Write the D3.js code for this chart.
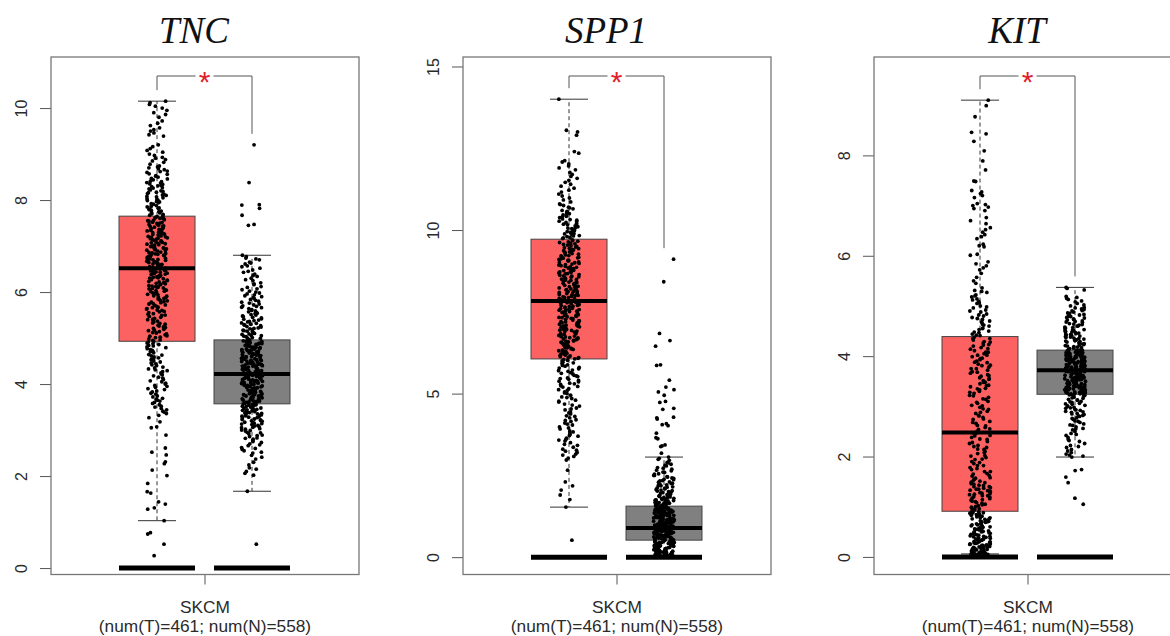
<!DOCTYPE html>
<html>
<head>
<meta charset="utf-8">
<script src="https://cdn.jsdelivr.net/npm/d3@7"></script>
<style>
  body { margin: 0; background: #fff; }
</style>
</head>
<body>
<svg id="chart"></svg>
<script>
// ---- data ----
const genes = ['TNC', 'SPP1', 'KIT'];
const groups = ['T', 'N'];
const yTicks = [[0, 2, 4, 6, 8, 10], [0, 5, 10, 15], [0, 2, 4, 6, 8]];
const yLimits = [[-0.14, 11.11], [-0.53, 15.29], [-0.35, 9.96]];
const xLabel = ['SKCM', '(num(T)=461; num(N)=558)'];

// box stats per group: [whisker low, q1, median, q3, whisker high]
const tncStats = [[1.03, 4.93, 6.52, 7.65, 10.15], [1.67, 3.57, 4.22, 4.96, 6.80]];
const spp1Stats = [[1.53, 6.06, 7.83, 9.72, 14.0], [0.0, 0.52, 0.89, 1.56, 3.06]];
const kitStats = [[0.06, 0.91, 2.48, 4.39, 9.10], [1.99, 3.24, 3.72, 4.12, 5.37]];

// expression values (points)
const tncT = [0.27,0.52,0.74,0.77,1.03,1.28,1.31,1.39,1.44,1.63,1.66,1.84,2.01,2.13,2.27,2.31,2.46,2.52,2.61,2.89,3.05,3.07,3.18,3.27,
  3.32,3.36,3.39,3.44,3.47,3.52,3.55,3.6,3.63,3.67,3.69,3.74,3.78,3.8,3.85,3.88,3.93,3.97,4.0,4.02,4.07,4.1,4.13,4.18,4.2,4.24,4.27,4.31,4.33,4.37,4.4,4.44,4.46,4.5,4.53,4.55,4.59,4.61,4.64,4.68,4.7,4.73,4.75,4.79,4.81,4.84,4.86,4.89,4.91,
  4.95,4.98,5.01,5.04,5.05,5.09,5.12,5.14,5.17,5.21,5.23,5.26,5.3,5.32,5.35,5.38,5.41,5.43,5.47,5.5,5.52,5.55,5.57,5.61,5.64,5.66,5.69,5.71,5.74,5.77,5.79,5.82,5.84,5.86,5.89,5.91,5.94,5.96,5.98,6.01,6.03,6.05,6.08,6.1,6.12,6.14,6.17,6.19,6.21,6.23,6.26,6.28,6.3,6.32,6.34,6.36,6.39,6.41,6.43,6.45,6.47,6.49,6.51,6.53,6.55,6.57,6.6,6.62,6.64,6.66,6.68,6.7,6.72,6.74,6.77,6.79,6.81,6.83,6.85,6.87,6.9,6.92,6.94,6.96,6.98,7.0,7.03,7.05,7.07,7.09,7.11,7.14,7.16,7.18,7.2,7.22,7.25,7.27,7.29,7.31,7.34,7.36,7.38,7.41,7.43,7.45,7.48,7.5,7.52,7.55,7.57,7.6,7.62,7.64,
  7.67,7.7,7.72,7.75,7.78,7.8,7.83,7.86,7.88,7.91,7.94,7.97,8.0,8.02,8.05,8.08,8.11,8.14,8.17,8.2,8.22,8.26,8.29,8.32,8.35,8.38,8.41,8.44,8.47,8.5,8.53,8.57,8.6,8.63,8.66,8.7,8.74,8.78,
  8.82,8.85,8.88,8.91,8.93,8.97,9.0,9.04,9.08,9.12,9.16,9.2,9.39,9.42,9.46,9.5,9.53,9.57,9.62,9.67,9.72,9.8,9.86,9.9,9.95,10.0,10.04,10.08,10.12,10.15,
  3.41,3.5,3.58,3.65,3.72,3.83,3.9,3.95,4.05,4.15,4.22,4.29,4.35,4.42,4.48,4.57,4.63,4.71,4.77,4.83,4.88,4.92,
  4.96,5.02,5.07,5.11,5.16,5.19,5.24,5.28,5.33,5.37,5.4,5.45,5.49,5.53,5.58,5.6,5.63,5.67,5.72,5.75,5.78,5.81,5.85,5.88,5.92,5.95,5.99,6.02,6.04,6.07,6.09,6.11,6.13,6.16,6.18,6.2,6.22,6.25,6.27,6.29,6.31,6.33,6.35,6.38,6.4,6.42,6.44,6.46,6.48,6.5,6.52,6.54,6.56,6.59,6.61,6.63,6.65,6.67,6.69,6.71,6.73,6.76,6.78,6.8,6.82,6.84,6.86,6.89,6.91,6.93,6.95,6.97,6.99,7.02,7.04,7.06,7.08,7.1,7.13,7.15,7.17,7.19,7.21,7.24,7.26,7.28,7.3,7.33,7.35,7.37,7.4,7.42,7.44,7.47,7.49,7.51,7.54,7.56,7.59,7.61,7.63,7.66,7.69,7.73,7.76,7.79,7.82,7.85,7.89,7.92,7.96,7.99,8.03,8.07,8.1,8.13,8.16,8.19,8.24,8.27,8.31,8.34,8.37,8.4,8.46,8.52,8.56,8.62,8.68,8.72];
const tncN = [0.52,1.67,2.02,2.06,2.1,2.15,2.18,2.24,2.3,2.37,2.41,2.45,2.5,2.55,2.58,2.62,2.66,2.7,2.73,2.77,2.8,2.83,2.86,2.89,2.92,2.95,2.98,3.0,3.03,3.05,3.08,3.1,3.13,3.15,3.17,3.2,3.22,3.24,3.27,3.29,3.31,3.33,3.35,3.37,3.39,3.41,3.43,3.45,3.47,3.49,3.51,3.53,3.55,3.56,
  3.58,3.59,3.61,3.62,3.63,3.65,3.66,3.67,3.69,3.7,3.71,3.73,3.74,3.75,3.76,3.78,3.79,3.8,3.82,3.83,3.84,3.86,3.87,3.88,3.9,3.91,3.92,3.93,3.95,3.96,3.97,3.98,4.0,4.01,4.02,4.03,4.05,4.06,4.07,4.08,4.1,4.11,4.12,4.13,4.15,4.16,4.17,4.18,4.19,4.21,4.22,4.23,4.24,4.25,4.27,4.28,4.29,4.3,4.32,4.33,4.34,4.35,4.37,4.38,4.39,4.41,4.42,4.43,4.45,4.46,4.47,4.49,4.5,4.52,4.53,4.54,4.56,4.57,4.59,4.6,4.62,4.63,4.65,4.66,4.68,4.69,4.71,4.72,4.74,4.76,4.77,4.79,4.8,4.82,4.84,4.85,4.87,4.89,4.9,4.92,4.94,4.95,
  4.98,5.0,5.03,5.05,5.08,5.1,5.12,5.15,5.17,5.2,5.22,5.25,5.28,5.3,5.33,5.36,5.39,5.42,5.45,5.48,5.51,5.54,5.57,5.6,5.64,5.67,5.7,5.74,5.78,5.82,5.86,5.9,5.94,5.98,6.02,6.07,6.12,6.16,6.2,6.25,6.3,6.34,6.39,6.43,6.48,6.52,6.57,6.61,6.65,6.7,6.74,6.77,6.8,
  7.45,7.47,7.67,7.82,7.89,7.9,8.38,9.2,
  2.52,2.6,2.68,2.75,2.82,2.88,2.94,2.99,3.02,3.06,3.09,3.12,3.14,3.16,3.19,3.21,3.23,3.26,3.28,3.3,3.32,3.34,3.36,3.38,3.4,3.42,3.44,3.46,3.48,3.5,3.52,3.54,3.57,3.6,3.64,3.68,3.72,3.77,3.81,3.85,3.89,3.94,3.99,4.04,4.09,4.14,4.2,4.26,4.31,4.36,4.4,4.44,4.48,4.51,4.55,4.58,4.61,4.64,4.67,4.7,4.73,4.75,4.78,4.81,4.83,4.86,4.88,4.91,4.93,4.96,4.99,5.01,5.04,5.06,5.09,5.11,5.14,5.16,5.19,5.21,5.24,5.27,5.29,5.32,5.35,5.38,5.41,5.44,5.47,5.5,5.53,5.56,5.59,5.62,5.66,5.69,5.72,5.76,5.8,5.84,5.88,5.92,5.96,6.0,6.05,6.1,6.18,6.27,6.36,6.45,6.55,6.63,6.72,
  3.6,3.62,3.66,3.7,3.74,3.77,3.8,3.84,3.87,3.91,3.93,3.97,4.0,4.03,4.06,4.08,4.11,4.13,4.16,4.18,4.21,4.24,4.27,4.29,4.32,4.34,4.37,4.39,4.42,4.45,4.47,4.5,4.53,4.56,4.59,4.62,4.65,4.68,4.72,4.76,4.8,4.84,4.88,4.92];
const spp1T = [0.52,1.53,1.76,1.9,2.05,2.18,2.3,2.66,2.97,3.03,3.08,3.15,3.2,3.24,3.3,3.36,3.42,3.5,3.55,3.6,3.64,3.7,3.75,3.8,3.86,3.92,3.98,4.04,4.1,4.15,4.2,4.26,4.32,4.38,4.44,4.5,4.56,4.62,4.68,4.74,4.8,4.85,4.9,4.95,5.0,5.05,5.1,5.15,5.2,5.24,5.28,5.32,5.36,5.4,5.44,5.48,5.52,5.56,5.6,5.64,5.68,5.72,5.76,5.8,5.84,5.88,5.92,5.96,6.0,6.04,
  6.08,6.11,6.15,6.18,6.21,6.25,6.28,6.31,6.35,6.38,6.41,6.45,6.48,6.51,6.55,6.58,6.61,6.65,6.68,6.71,6.74,6.78,6.81,6.84,6.88,6.91,6.94,6.97,7.01,7.04,7.07,7.1,7.14,7.17,7.2,7.23,7.27,7.3,7.33,7.36,7.39,7.43,7.46,7.49,7.52,7.55,7.58,7.61,7.64,7.67,7.7,7.73,7.76,7.79,7.82,7.85,7.88,7.91,7.94,7.97,8.0,8.03,8.06,8.09,8.12,8.15,8.18,8.21,8.25,8.28,8.31,8.34,8.37,8.41,8.44,8.47,8.5,8.54,8.57,8.6,8.64,8.67,8.7,8.74,8.77,8.8,8.84,8.87,8.91,8.94,8.98,9.01,9.05,9.08,9.12,9.15,9.19,9.22,9.26,9.3,9.33,9.37,9.41,9.44,9.48,9.52,9.56,9.6,9.64,9.68,
  9.74,9.77,9.8,9.83,9.86,9.89,9.92,9.95,9.98,10.01,10.04,10.07,10.1,10.13,10.16,10.2,10.23,10.27,10.3,10.34,10.38,10.42,10.46,10.5,10.55,10.6,10.65,10.7,10.75,10.8,10.86,
  10.92,10.98,11.04,11.1,11.16,11.22,11.28,11.34,11.4,11.46,11.52,11.58,11.64,11.7,11.76,11.84,11.9,11.96,12.02,12.08,12.12,12.35,12.4,12.9,13.0,13.05,14.0,
  3.12,3.27,3.45,3.58,3.72,3.83,3.95,4.07,4.18,4.3,4.41,4.53,4.65,4.77,4.88,
  5.02,5.12,5.22,5.3,5.38,5.46,5.54,5.62,5.7,5.78,5.86,5.94,6.02,6.06,6.1,6.13,6.17,6.2,6.23,6.27,6.3,6.33,6.37,6.4,6.43,6.47,6.5,6.53,6.57,6.6,6.63,6.67,6.7,6.73,6.76,6.8,6.83,6.86,6.9,6.93,6.96,6.99,7.03,7.06,7.09,7.12,7.16,7.19,7.22,7.25,7.29,7.32,7.35,7.38,7.41,7.45,7.48,7.51,7.54,7.57,7.6,7.63,7.66,7.69,7.72,7.75,7.78,7.81,7.84,7.87,7.9,7.93,7.96,7.99,8.02,8.05,8.08,8.11,8.14,8.17,8.2,8.23,8.27,8.3,8.33,8.36,8.39,8.43,8.46,8.49,8.52,8.56,8.59,8.62,8.66,8.69,8.72,8.76,8.79,8.82,8.86,8.89,8.93,8.96,9.0,9.03,9.07,9.1,9.14,9.17,9.21,9.24,9.28,9.32,9.35,9.39,9.43,9.46,9.5,9.54,9.58,9.62,9.66,9.7,9.76,9.82,9.88,9.94,10.0,10.06,10.12,10.18,10.25,10.32,10.4,10.48,10.57,10.68,10.78];
const spp1N = [0.02,0.03,0.05,0.06,0.08,0.09,0.1,0.12,0.13,0.15,0.16,0.17,0.19,0.2,0.21,0.22,0.24,0.25,0.27,0.28,0.3,0.31,0.32,0.33,0.35,0.36,0.37,0.39,0.4,0.42,0.43,0.44,0.45,0.46,0.48,0.49,0.5,0.51,
  0.53,0.54,0.56,0.57,0.58,0.6,0.61,0.62,0.64,0.65,0.66,0.68,0.69,0.7,0.72,0.73,0.74,0.76,0.77,0.78,0.8,0.81,0.82,0.84,0.85,0.86,0.88,0.89,0.9,0.91,0.93,0.94,0.95,0.97,0.98,0.99,1.01,1.02,1.03,1.05,1.06,1.07,1.09,1.1,1.11,1.13,1.14,1.15,1.17,1.18,1.2,1.21,1.22,1.24,1.25,1.27,1.28,1.3,1.31,1.33,1.34,1.36,1.37,1.39,1.4,1.42,1.43,1.45,1.46,1.48,1.5,1.51,1.53,1.55,
  1.57,1.59,1.61,1.63,1.65,1.67,1.69,1.71,1.73,1.75,1.77,1.8,1.82,1.84,1.87,1.89,1.92,1.94,1.97,2.0,2.03,2.06,2.09,2.12,2.15,2.19,2.22,2.26,2.3,2.34,2.38,2.42,2.46,2.5,2.55,2.6,2.64,2.69,2.74,2.79,2.84,2.9,2.96,3.02,3.06,
  3.18,3.38,3.4,3.43,3.62,3.65,3.79,4.02,4.05,4.08,4.22,4.26,4.28,4.52,4.55,4.73,4.76,4.95,5.05,5.12,5.2,5.41,5.86,5.88,6.45,6.62,6.84,8.42,9.11,
  0.01,0.04,0.07,0.11,0.14,0.18,0.23,0.26,0.29,0.34,0.38,0.41,0.47,0.5,0.52,0.53,0.55,0.56,0.58,0.59,0.6,0.62,0.63,0.64,0.66,0.67,0.68,0.7,0.71,0.72,0.74,0.75,0.76,0.78,0.79,0.8,0.82,0.83,0.84,0.86,0.87,0.88,0.9,0.91,0.92,0.94,0.95,0.96,0.98,0.99,1.0,1.02,1.03,1.04,1.06,1.07,1.08,1.1,1.11,1.12,1.14,1.15,1.16,1.18,1.19,1.21,1.22,1.23,1.25,1.26,1.28,1.29,1.31,1.32,1.34,1.35,1.37,1.38,1.4,1.41,1.43,1.44,1.46,1.47,1.49,1.5,1.52,1.54,1.56,1.58,1.6,1.62,1.64,1.66,1.68,1.7,1.72,1.74,1.76,1.79,1.81,1.83,1.86,1.88,1.91,1.93,1.96,1.99,2.02,2.05,2.08,2.11,2.14,2.18,2.21,2.25,2.29,2.33,2.37,2.41,2.45,2.5,2.54,2.59,2.66,2.72,2.81,2.88,2.99,
  0.02,0.05,0.08,0.12,0.15,0.19,0.22,0.25,0.28,0.32,0.35,0.38,0.42,0.45,0.48];
const kitT = [0.01,0.02,0.03,0.04,0.05,0.06,0.08,0.09,0.1,0.11,0.13,0.14,0.16,0.17,0.19,0.2,0.22,0.23,0.25,0.26,0.28,0.3,0.31,0.33,0.35,0.36,0.38,0.4,0.42,0.44,0.46,0.48,0.5,0.52,0.54,0.56,0.58,0.6,0.62,0.64,0.66,0.69,0.71,0.73,0.76,0.78,0.8,0.83,0.85,0.88,0.9,
  0.93,0.96,0.99,1.02,1.05,1.08,1.11,1.14,1.17,1.2,1.22,1.25,1.27,1.3,1.32,1.35,1.37,1.4,1.42,1.45,1.48,1.51,1.55,1.58,1.62,1.66,1.7,1.74,1.78,1.82,1.86,1.9,1.94,1.98,2.02,2.06,2.1,2.14,2.18,2.22,2.26,2.3,2.34,2.38,2.42,2.46,2.5,2.54,2.58,2.62,2.66,2.7,2.74,2.78,2.82,2.86,2.9,2.94,2.98,3.02,3.06,3.1,3.14,3.18,3.22,3.26,3.3,3.33,3.36,3.39,3.42,3.45,3.48,3.51,3.54,3.57,3.6,3.63,3.66,3.69,3.72,3.75,3.78,3.81,3.84,3.87,3.9,3.93,3.96,3.99,4.02,4.05,4.08,4.11,4.14,4.17,4.2,4.23,4.26,4.29,4.32,4.35,4.38,
  4.41,4.44,4.47,4.5,4.53,4.56,4.6,4.63,4.66,4.7,4.73,4.77,4.8,4.84,4.88,4.92,4.96,5.0,5.05,5.09,5.14,5.18,5.22,5.27,5.31,5.36,5.45,5.5,5.57,5.65,5.72,5.76,5.8,5.84,5.88,6.01,6.03,6.18,6.2,6.23,6.34,6.38,6.42,6.47,6.52,6.56,6.64,6.7,6.76,6.9,6.94,6.97,7.0,7.02,7.04,7.16,7.2,7.24,7.27,7.3,7.48,7.49,7.71,7.89,8.09,8.28,8.43,8.46,8.77,8.99,9.1,
  0.01,0.02,0.03,0.05,0.06,0.07,0.09,0.1,0.12,0.13,0.15,0.16,0.18,0.19,0.21,0.23,0.24,0.26,0.28,0.29,0.31,0.33,0.35,0.37,0.39,0.41,0.43,0.45,0.47,0.49,0.51,0.53,0.55,0.57,0.59,0.62,0.64,0.67,0.7,0.72,0.75,0.78,0.81,0.84,0.87,0.9,0.94,0.97,1.0,1.04,1.07,1.1,1.13,1.16,1.19,1.22,1.24,1.26,1.28,1.31,1.33,1.35,1.38,1.4,1.43,1.46,1.49,1.53,1.57,1.61,1.65,1.7,1.76,1.82,1.88,1.95,2.01,2.08,2.15,2.2,2.28,2.35,2.41,2.47,2.55,2.61,2.68,2.75,2.81,2.88,2.95,3.01,3.08,3.15,3.21,3.28,3.35,3.41,3.48,3.55,3.61,3.68,3.75,3.82,3.88,3.95,4.02,4.08,4.15,4.22,4.28,4.35,4.42,4.48,4.55,4.62,4.68,4.75,4.82,4.9,4.98,5.06,5.12,5.2,5.29,
  0.02,0.04,0.06,0.08,0.11,0.14,0.17,0.2,0.23,0.27,0.3,0.34,0.37,0.41,0.45,0.5,0.55,0.6,0.65,0.7,0.76,0.82,0.88];
const kitN = [1.05,1.17,1.48,1.59,1.72,1.74,1.99,2.01,2.03,2.05,2.08,2.11,2.14,2.18,2.22,2.26,2.3,2.34,2.38,2.42,2.46,2.5,2.53,2.56,2.59,2.62,2.65,2.68,2.71,2.74,2.77,2.8,2.82,2.84,2.86,2.88,2.9,2.92,2.94,2.96,2.98,3.0,3.02,3.04,3.06,3.08,3.1,3.12,3.14,3.16,3.18,3.2,3.22,
  3.24,3.25,3.25,3.27,3.28,3.28,3.3,3.31,3.33,3.33,3.34,3.36,3.37,3.37,3.39,3.4,3.41,3.41,3.43,3.44,3.46,3.46,3.47,3.49,3.5,3.5,3.52,3.53,3.54,3.55,3.55,3.57,3.58,3.59,3.6,3.6,3.62,3.63,3.64,3.65,3.66,3.66,3.68,3.69,3.7,3.71,3.71,3.72,3.73,3.74,3.75,3.75,3.77,3.78,3.79,3.8,3.8,3.82,3.83,3.84,3.85,3.86,3.86,3.88,3.89,3.9,3.91,3.92,3.93,3.94,3.94,3.96,3.97,3.98,3.99,4.0,4.01,4.02,4.03,4.05,4.06,4.07,4.08,4.09,4.11,4.12,
  4.13,4.15,4.17,4.19,4.21,4.23,4.25,4.27,4.29,4.31,4.33,4.35,4.37,4.39,4.41,4.43,4.45,4.47,4.49,4.51,4.53,4.56,4.58,4.6,4.63,4.65,4.68,4.7,4.73,4.76,4.79,4.82,4.85,4.88,4.91,4.94,4.97,5.0,5.05,5.1,5.15,5.17,5.19,5.32,5.35,5.37,
  2.2,2.32,2.44,2.55,2.63,2.7,2.76,2.81,2.85,2.89,2.93,2.97,3.01,3.05,3.09,3.13,3.17,3.21,3.23,3.26,3.29,3.32,3.35,3.38,3.4,3.42,3.45,3.48,3.51,3.53,3.56,3.58,3.61,3.64,3.67,3.7,3.72,3.74,3.76,3.79,3.81,3.84,3.87,3.9,3.92,3.95,3.98,4.0,4.02,4.04,4.06,4.08,4.1,4.12,4.14,4.16,4.18,4.2,4.22,4.24,4.26,4.28,4.3,4.32,4.34,4.36,4.38,4.4,4.42,4.44,4.46,4.48,4.5,4.52,4.54,4.57,4.6,4.62,4.64,4.67,4.69,4.72,4.74,4.77,4.8,4.83,4.86,4.9,4.93,4.96,5.02,5.08,5.13,
  3.25,3.27,3.29,3.31,3.33,3.35,3.37,3.39,3.41,3.43,3.45,3.47,3.49,3.51,3.53,3.55,3.57,3.59,3.61,3.63,3.65,3.67,3.69,3.71,3.73,3.75,3.77,3.79,3.81,3.83,3.85,3.87,3.89,3.91,3.93,3.95,3.97,3.99,4.01,4.03,4.05,4.07,4.09,4.11];

const statsList = [tncStats, spp1Stats, kitStats];
const pointsList = [[tncT, tncN], [spp1T, spp1N], [kitT, kitN]];

// ---- layout ----
const width = 1170, height = 636;
const frameLefts = [51, 463, 874];
const frameW = 308, frameTop = 57, frameBottom = 574.5;
const fills = { T: '#fc6262', N: '#808080' };
const sans = 'Liberation Sans, Arial, sans-serif';

const svg = d3.select('#chart')
  .attr('width', width)
  .attr('height', height);

// deterministic jitter for point x offsets
function jitter(i, k) {
  let h = Math.imul(i + 1 + k * 7919, 2654435761) >>> 0;
  h ^= h >>> 15;
  h = Math.imul(h, 2246822519) >>> 0;
  h ^= h >>> 13;
  return (h >>> 0) / 4294967296;
}

genes.forEach((gene, i) => {
  const left = frameLefts[i];
  const mid = left + frameW / 2;
  const g = svg.append('g');

  const y = d3.scaleLinear().domain(yLimits[i]).range([frameBottom, frameTop]);
  const x = d3.scaleBand().domain(groups).range([left + 68, left + 239]).paddingInner(0.2);
  const bw = x.bandwidth();

  // title
  g.append('text')
    .attr('x', mid - 11)
    .attr('y', 43)
    .attr('text-anchor', 'middle')
    .attr('font-family', 'Liberation Serif, Times New Roman, serif')
    .attr('font-style', 'italic')
    .attr('font-size', 37)
    .attr('fill', '#111')
    .text(gene);

  // y axis
  g.append('g')
    .attr('transform', `translate(${left},0)`)
    .call(d3.axisLeft(y).tickValues(yTicks[i]).tickSize(11))
    .call(a => a.select('.domain').remove())
    .call(a => a.selectAll('line').attr('stroke', '#555'))
    .call(a => a.selectAll('text')
      .attr('transform', 'rotate(-90)')
      .attr('x', 0).attr('y', -24).attr('dy', null)
      .attr('text-anchor', 'middle')
      .attr('font-family', sans)
      .attr('font-size', 16)
      .attr('fill', '#2a2a2a'));

  // x axis tick and labels
  g.append('line')
    .attr('x1', mid).attr('x2', mid)
    .attr('y1', frameBottom).attr('y2', frameBottom + 10)
    .attr('stroke', '#555');
  xLabel.forEach((t, j) => {
    g.append('text')
      .attr('x', mid)
      .attr('y', 613 + j * 19)
      .attr('text-anchor', 'middle')
      .attr('font-family', sans)
      .attr('font-size', 17.3)
      .attr('fill', '#2a2a2a')
      .text(t);
  });

  groups.forEach((grp, k) => {
    const [lo, q1, med, q3, hi] = statsList[i][k];
    const cx = x(grp) + bw / 2;

    // whiskers
    [[q3, hi], [q1, lo]].forEach(([a, b]) => {
      g.append('line')
        .attr('x1', cx).attr('x2', cx)
        .attr('y1', y(a)).attr('y2', y(b))
        .attr('stroke', '#333')
        .attr('stroke-dasharray', '4,3');
      g.append('line')
        .attr('x1', cx - bw / 4).attr('x2', cx + bw / 4)
        .attr('y1', y(b)).attr('y2', y(b))
        .attr('stroke', '#333');
    });

    // box
    g.append('rect')
      .attr('x', x(grp))
      .attr('y', y(q3))
      .attr('width', bw)
      .attr('height', y(q1) - y(q3))
      .attr('fill', fills[grp])
      .attr('stroke', '#444')
      .attr('stroke-width', 1);

    g.append('line')
      .attr('x1', x(grp)).attr('x2', x(grp) + bw)
      .attr('y1', y(med)).attr('y2', y(med))
      .attr('stroke', '#000')
      .attr('stroke-width', 4);

    // zero bar
    g.append('line')
      .attr('x1', x(grp)).attr('x2', x(grp) + bw)
      .attr('y1', y(0)).attr('y2', y(0))
      .attr('stroke', '#000')
      .attr('stroke-width', 5);

    // points
    g.append('g')
      .selectAll('circle')
      .data(pointsList[i][k])
      .join('circle')
      .attr('cx', (d, n) => cx + (jitter(n, i * 2 + k) - 0.5) * 21)
      .attr('cy', d => y(d))
      .attr('r', 1.9)
      .attr('fill', '#000');
  });

  // significance bracket
  const cT = x('T') + bw / 2, cN = x('N') + bw / 2, cs = (cT + cN) / 2;
  const by = frameTop + 19;
  const topT = y(d3.max(pointsList[i][0])) - 11;
  const topN = y(d3.max(pointsList[i][1])) - 11;
  g.append('path')
    .attr('d', `M${cT},${topT}V${by}H${cs - 9}M${cs + 9},${by}H${cN}V${topN}`)
    .attr('fill', 'none')
    .attr('stroke', '#555');
  g.append('text')
    .attr('x', cs)
    .attr('y', by + 16)
    .attr('text-anchor', 'middle')
    .attr('font-family', sans)
    .attr('font-size', 30)
    .attr('fill', '#e0202a')
    .text('*');

  // frame
  g.append('rect')
    .attr('x', left)
    .attr('y', frameTop)
    .attr('width', frameW)
    .attr('height', frameBottom - frameTop)
    .attr('fill', 'none')
    .attr('stroke', '#777')
    .attr('stroke-width', 1.3);
});
</script>
</body>
</html>
